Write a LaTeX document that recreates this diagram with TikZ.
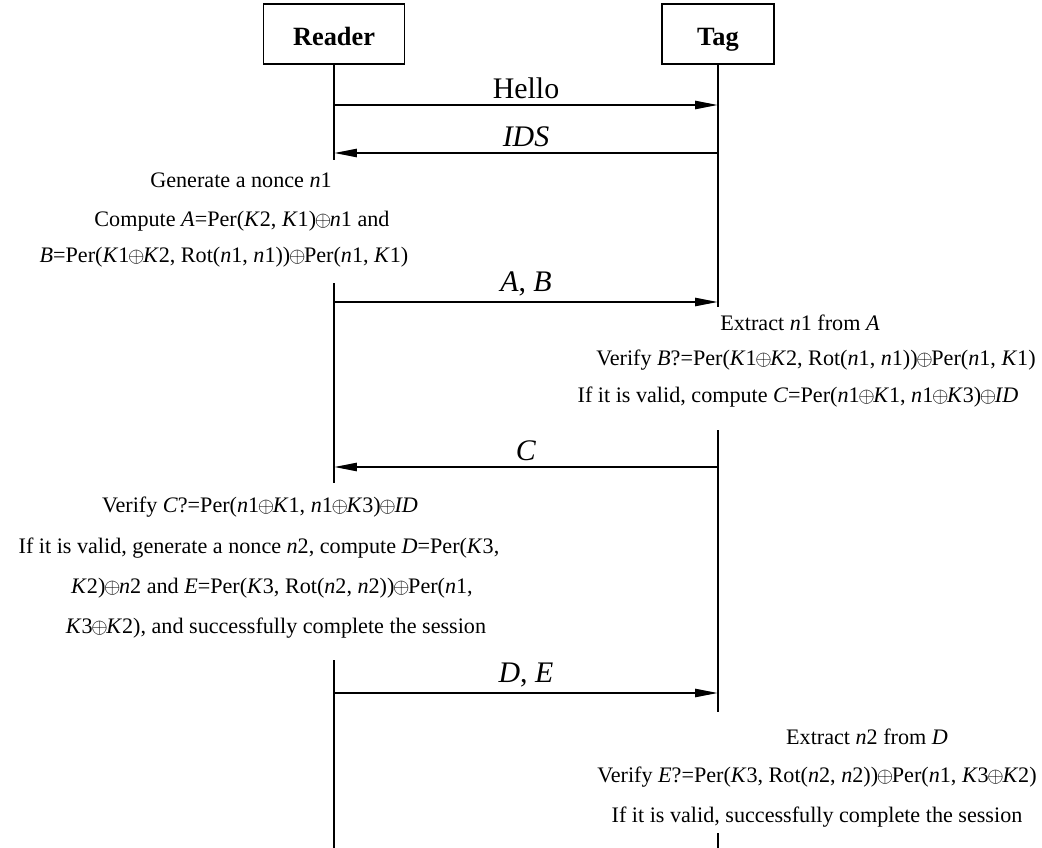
\documentclass[tikz,border=0pt]{standalone}
\usepackage{fontspec}
\setmainfont{Liberation Serif}
\usetikzlibrary{arrows.meta}
\newcommand{\vr}[1]{\textit{#1}}
\newcommand{\xo}{\makebox[0.62em]{$\oplus$}}

\begin{document}
\begin{tikzpicture}[x=0.02cm,y=-0.02cm,
  every node/.style={font=\fontsize{12.6}{15}\selectfont},
  party/.style={draw,line width=0.9pt,minimum height=1.2cm,text height=12.6pt,text depth=0pt,font=\fontsize{15}{18}\selectfont\bfseries},
  life/.style={line width=0.9pt},
  msg/.style={line width=1.2pt,-{Triangle[length=13pt,width=4.6pt]}},
  lbl/.style={midway,above,inner sep=3pt,font=\fontsize{17}{20}\selectfont}]

\useasboundingbox (0,0) rectangle (1042,848);

\node[party,minimum width=2.82cm] (reader) at (334,34) {Reader};
\node[party,minimum width=2.24cm] (tag) at (718,34) {Tag};

% message levels
\foreach \y/\name in {105/hello,153/ids,302/ab,467/c,693/de}{
  \coordinate (r-\name) at (334,\y);
  \coordinate (t-\name) at (718,\y);
}

% lifelines, broken round the texts
\coordinate (rl1) at (334,160);
\coordinate (rl2) at (334,283);
\coordinate (rl3) at (334,483);
\coordinate (rl4) at (334,660);
\coordinate (rl5) at (334,848);
\coordinate (tl1) at (718,307);
\coordinate (tl2) at (718,430);
\coordinate (tl3) at (718,712);
\coordinate (tl4) at (718,833);
\coordinate (tl5) at (718,848);
\draw[life] (reader.south)--(rl1) (rl2)--(rl3) (rl4)--(rl5);
\draw[life] (tag.south)--(tl1) (tl2)--(tl3) (tl4)--(tl5);

\draw[msg] (r-hello)--(t-hello) node[lbl]{Hello};
\draw[msg] (t-ids)--(r-ids) node[lbl]{\vr{IDS}};
\draw[msg] (r-ab)--(t-ab) node[lbl]{\vr{A}, \vr{B}};
\draw[msg] (t-c)--(r-c) node[lbl]{\vr{C}};
\draw[msg] (r-de)--(t-de) node[lbl]{\vr{D}, \vr{E}};

% reader, first step
\node (gen) at (241,180) {Generate a nonce \vr{n}1};
\node (cmpA) at (242,221) {Compute \vr{A}=Per(\vr{K}2, \vr{K}1)\xo\vr{n}1 and};
\node (cmpB) at (224,257) {\vr{B}=Per(\vr{K}1\xo\vr{K}2, Rot(\vr{n}1, \vr{n}1))\xo Per(\vr{n}1, \vr{K}1)};

% tag, first step
\node (ext1) at (800,323) {Extract \vr{n}1 from \vr{A}};
\node (verB) at (816,360) {Verify \vr{B}?=Per(\vr{K}1\xo\vr{K}2, Rot(\vr{n}1, \vr{n}1))\xo Per(\vr{n}1, \vr{K}1)};
\node (cmpC) at (798,397) {If it is valid, compute \vr{C}=Per(\vr{n}1\xo\vr{K}1, \vr{n}1\xo\vr{K}3)\xo\vr{ID}};

% reader, second step
\node (verC) at (260,507) {Verify \vr{C}?=Per(\vr{n}1\xo\vr{K}1, \vr{n}1\xo\vr{K}3)\xo\vr{ID}};
\node (genD) at (259,548) {If it is valid, generate a nonce \vr{n}2, compute \vr{D}=Per(\vr{K}3,};
\node (genE) at (272,588) {\vr{K}2)\xo\vr{n}2 and \vr{E}=Per(\vr{K}3, Rot(\vr{n}2, \vr{n}2))\xo Per(\vr{n}1,};
\node (done1) at (276,628) {\vr{K}3\xo\vr{K}2), and successfully complete the session};

% tag, second step
\node (ext2) at (867,737) {Extract \vr{n}2 from \vr{D}};
\node (verE) at (817,777) {Verify \vr{E}?=Per(\vr{K}3, Rot(\vr{n}2, \vr{n}2))\xo Per(\vr{n}1, \vr{K}3\xo\vr{K}2)};
\node (done2) at (817,817) {If it is valid, successfully complete the session};

\end{tikzpicture}
\end{document}
